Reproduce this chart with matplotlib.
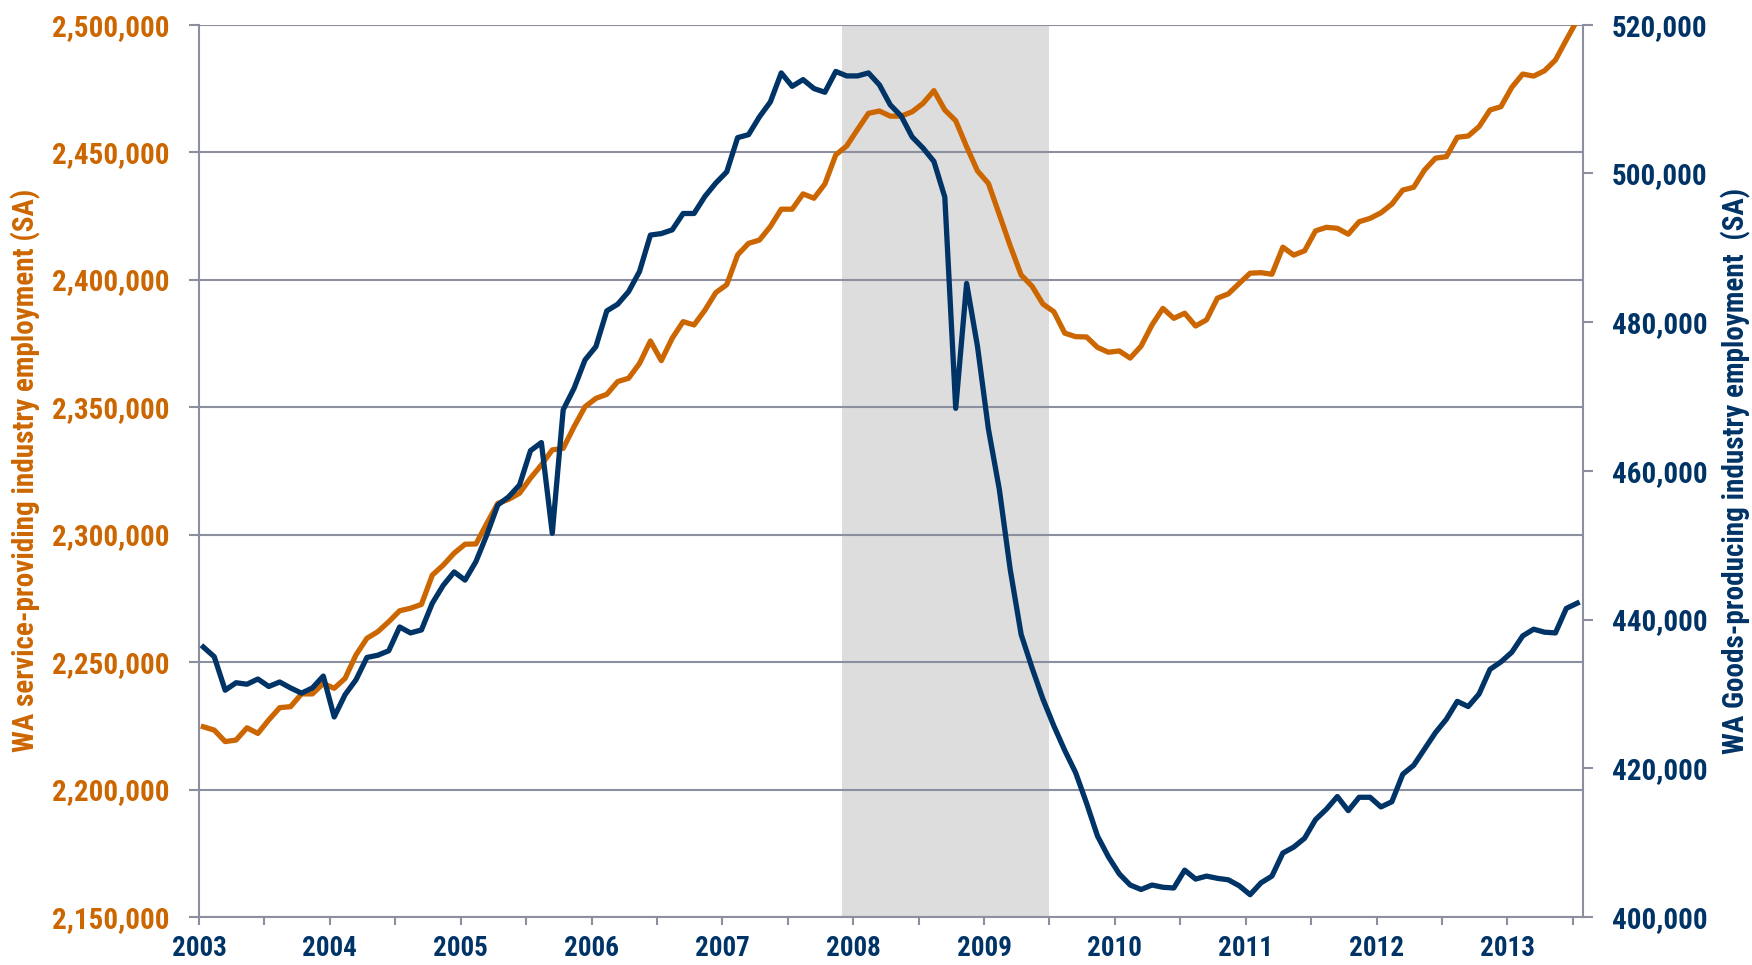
import matplotlib
matplotlib.use("Agg")
import matplotlib.pyplot as plt
from matplotlib import font_manager as fm
from matplotlib.ticker import FixedLocator, FuncFormatter
import numpy as np

# ---------------- data (monthly, Jan 2003 - Jul 2013) ----------------
service = [
    2224600, 2223300, 2218800, 2219400, 2224200, 2222000, 2227300, 2232100, 2232500, 2237500, 2237500, 2241600,
    2239700, 2243600, 2252800, 2259300, 2261900, 2265800, 2270100, 2271100, 2272600, 2284100, 2288000, 2292700,
    2296200, 2296300, 2304400, 2312200, 2313800, 2316200, 2322100, 2327300, 2333200, 2333800, 2342300, 2350100,
    2353400, 2355000, 2360000, 2361300, 2367100, 2375900, 2368200, 2377000, 2383500, 2382200, 2388000, 2394900,
    2398000, 2409700, 2414200, 2415500, 2420800, 2427600, 2427600, 2433600, 2431900, 2437500, 2448900, 2452400,
    2458900, 2465200, 2466100, 2464100, 2464100, 2465800, 2469100, 2474100, 2466500, 2462300, 2452100, 2442600,
    2437700, 2425500, 2413200, 2401800, 2397400, 2390400, 2387400, 2379000, 2377600, 2377500, 2373400, 2371500,
    2372000, 2369200, 2373900, 2382200, 2388700, 2384800, 2386800, 2381800, 2384200, 2392700, 2394400, 2398500,
    2402500, 2402700, 2402100, 2412700, 2409600, 2411300, 2419100, 2420500, 2420100, 2417800, 2422700, 2424000,
    2426200, 2429600, 2435100, 2436200, 2443000, 2447600, 2448200, 2455800, 2456300, 2460000, 2466500, 2467800,
    2475400, 2480600, 2479800, 2481900, 2486100, 2494000, 2501800,
]
goods = [
    436300, 435000, 430500, 431500, 431300, 432000, 431000, 431600, 430800, 430100, 430800, 432400,
    426900, 429900, 431900, 434900, 435200, 435800, 439000, 438200, 438600, 442200, 444600, 446400,
    445300, 447800, 451400, 455400, 456500, 458100, 462700, 463800, 451600, 468200, 471100, 474900,
    476700, 481500, 482400, 484100, 486800, 491700, 491900, 492400, 494600, 494600, 496900, 498700,
    500200, 504800, 505200, 507600, 509600, 513500, 511700, 512600, 511400, 510900, 513700, 513100,
    513100, 513500, 511900, 509200, 507700, 504900, 503400, 501600, 496800, 468400, 485200, 476700,
    465600, 457500, 446700, 438000, 433500, 429300, 425700, 422400, 419400, 415300, 410900, 408100,
    405800, 404300, 403700, 404300, 404000, 403900, 406300, 405100, 405500, 405200, 405000, 404200,
    403000, 404600, 405500, 408600, 409400, 410600, 413100, 414500, 416200, 414300, 416100, 416100,
    414800, 415500, 419200, 420400, 422600, 424800, 426600, 429000, 428300, 430000, 433300, 434300,
    435600, 437800, 438700, 438300, 438200, 441500, 442200,
]
years = list(range(2003, 2014))
recession = (2007 + 11 / 12, 2009.5)
left_ticks = list(range(2150000, 2500001, 50000))
right_ticks = list(range(400000, 520001, 20000))
left_label = "WA service-providing industry employment (SA)"
right_label = "WA Goods-producing industry employment  (SA)"

# ---------------- style ----------------
ORANGE = "#CC6600"
NAVY = "#003366"
GRID = "#8C8FA0"
SHADE = "#DDDDDD"

# pick a narrow / condensed bold sans if one is installed
fam, stretch, narrow = "Liberation Sans", "normal", False
entries = fm.fontManager.ttflist
names = {f.name for f in entries}
for cand in ["Liberation Sans Narrow", "Arial Narrow", "Roboto Condensed",
             "Open Sans Condensed", "Noto Sans Condensed"]:
    if cand in names:
        fam, narrow = cand, True
        break
if not narrow:
    for f in entries:
        if f.name == "DejaVu Sans" and str(f.stretch) in ("condensed", "semi-condensed") \
                and f.weight in ("bold", 700):
            fam, stretch, narrow = "DejaVu Sans", "condensed", True
            break
fs = 21 if narrow else 19.5
xfs = 19.5 if narrow else 18
plt.rcParams["font.family"] = [fam, "DejaVu Sans"]
plt.rcParams["font.stretch"] = stretch
plt.rcParams["font.weight"] = "bold"

x = 2003 + (np.arange(len(service)) + 0.4) / 12.0

fig = plt.figure(figsize=(17.52, 9.65), dpi=100)
ax1 = fig.add_axes([0.11358, 0.04974, 0.78978, 0.92477])
ax1.set_axisbelow(True)
ax1.axvspan(recession[0], recession[1], color=SHADE, lw=0, zorder=0)
ax1.plot(x, service, color=ORANGE, lw=3.8, solid_joinstyle="round", zorder=3)
ax1.set_xlim(2003, 2003 + 10.575)
ax1.set_ylim(left_ticks[0], left_ticks[-1])
ax1.yaxis.set_major_locator(FixedLocator(left_ticks))
ax1.yaxis.set_major_formatter(FuncFormatter(lambda v, p: f"{v:,.0f}"))
ax1.grid(axis="y", color=GRID, lw=1.5)
ax1.xaxis.set_major_locator(FixedLocator(years))
ax1.xaxis.set_minor_locator(FixedLocator([y + 0.5 for y in years]))
ax1.xaxis.set_major_formatter(FuncFormatter(lambda v, p: f"{int(round(v))}"))

ax1.tick_params(axis="y", direction="out", length=7.2, width=1.5, color=GRID,
                pad=14, labelsize=fs, labelcolor=ORANGE)
ax1.tick_params(axis="x", which="both", direction="out", length=6, width=1.5, color=GRID,
                pad=7, labelsize=xfs, labelcolor=NAVY)
for s in ["top", "right"]:
    ax1.spines[s].set_visible(False)
for s in ["left", "bottom"]:
    ax1.spines[s].set_color(GRID)
    ax1.spines[s].set_linewidth(1.5)
ax1.set_ylabel(left_label, color=ORANGE, fontsize=fs, fontweight="bold")
ax1.yaxis.set_label_coords(-0.1142, 0.5)

ax2 = ax1.twinx()
ax2.plot(x, goods, color=NAVY, lw=3.8, solid_joinstyle="round", zorder=3)
ax2.set_ylim(right_ticks[0], right_ticks[-1])
ax2.yaxis.set_major_locator(FixedLocator(right_ticks))
ax2.yaxis.set_major_formatter(FuncFormatter(lambda v, p: f"{v:,.0f}"))
ax2.tick_params(axis="y", direction="out", length=7.2, width=1.5, color=GRID,
                pad=14, labelsize=fs, labelcolor=NAVY)
for s in ["top", "left", "bottom"]:
    ax2.spines[s].set_visible(False)
ax2.spines["right"].set_color(GRID)
ax2.spines["right"].set_linewidth(1.5)
ax2.set_ylabel(right_label, color=NAVY, fontsize=fs, fontweight="bold", rotation=90)
ax2.yaxis.set_label_coords(1.100, 0.5)

fig.savefig("out.png", dpi=100)
